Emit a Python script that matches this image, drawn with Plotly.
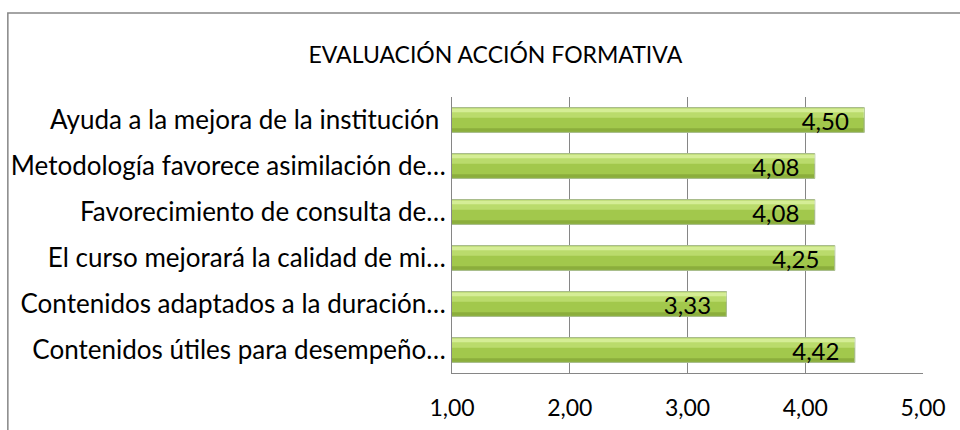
import plotly.graph_objects as go

# categories listed bottom to top, as plotly draws horizontal bars
categorias = [
    "Contenidos útiles para desempeño…",
    "Contenidos adaptados a la duración…",
    "El curso mejorará la calidad de mi…",
    "Favorecimiento de consulta de…",
    "Metodología favorece asimilación de…",
    "Ayuda a la mejora de la institución ",
]
valores = [4.42, 3.33, 4.25, 4.08, 4.08, 4.50]
ticks = [1, 2, 3, 4, 5]
tick_labels = ["1,00", "2,00", "3,00", "4,00", "5,00"]

FONT = "Lato"
fig = go.Figure()

# base bar + shading strips to fake the bevelled Excel look
# (bars start at 0, the axis range cuts them at 1 like the original)
capas = [
    dict(width=0.54, offset=-0.27, color="#A2C84C", line="#6F8F2A"),
    dict(width=0.20, offset=0.05, color="#BADB6C", line="rgba(0,0,0,0)"),
    dict(width=0.08, offset=0.17, color="#D5ED96", line="rgba(0,0,0,0)"),
    dict(width=0.08, offset=-0.26, color="#8BAE3C", line="rgba(0,0,0,0)"),
]
for c in capas:
    fig.add_trace(go.Bar(
        y=categorias, x=valores, orientation="h",
        width=c["width"], offset=c["offset"],
        marker=dict(color=c["color"], line=dict(color=c["line"], width=1)),
        hoverinfo="skip", showlegend=False,
    ))
# labels on top
fig.add_trace(go.Bar(
    y=categorias, x=valores, orientation="h",
    width=0.54, offset=-0.27,
    marker=dict(color="rgba(0,0,0,0)"),
    texttemplate="%{x:.2f}\u00a0\u00a0", textposition="inside",
    insidetextanchor="end", constraintext="none",
    textfont=dict(family=FONT, size=24, color="#000000"),
    hoverinfo="skip", showlegend=False,
))

fig.update_layout(
    width=960, height=430,
    barmode="overlay",
    separators=",.",
    paper_bgcolor="white", plot_bgcolor="white",
    margin=dict(l=452, r=37, t=97, b=57, autoexpand=False),
    font=dict(family=FONT, size=26, color="#000000"),
    title=dict(text="EVALUACIÓN ACCIÓN FORMATIVA", x=0.516, xanchor="center",
               y=0.872, yanchor="middle",
               font=dict(family=FONT, size=23, color="#000000")),
    xaxis=dict(range=[1, 5], tickvals=ticks, ticktext=tick_labels,
               showgrid=True, gridcolor="#868686", gridwidth=1,
               showline=True, linecolor="#868686", linewidth=1,
               zeroline=False, ticks="", ticklabelstandoff=14,
               automargin=False, tickfont=dict(size=23)),
    yaxis=dict(showline=True, linecolor="#868686", linewidth=1,
               showgrid=False, ticks="", ticklabelstandoff=0,
               automargin=False),
    shapes=[dict(type="rect", xref="paper", yref="paper",
                 x0=-0.943, x1=1.2, y0=-0.5, y1=1.304,
                 line=dict(color="#868686", width=1.5))],
)

fig.write_html("out.html", config={"displayModeBar": False},
               post_script="document.body.style.margin='0';")
